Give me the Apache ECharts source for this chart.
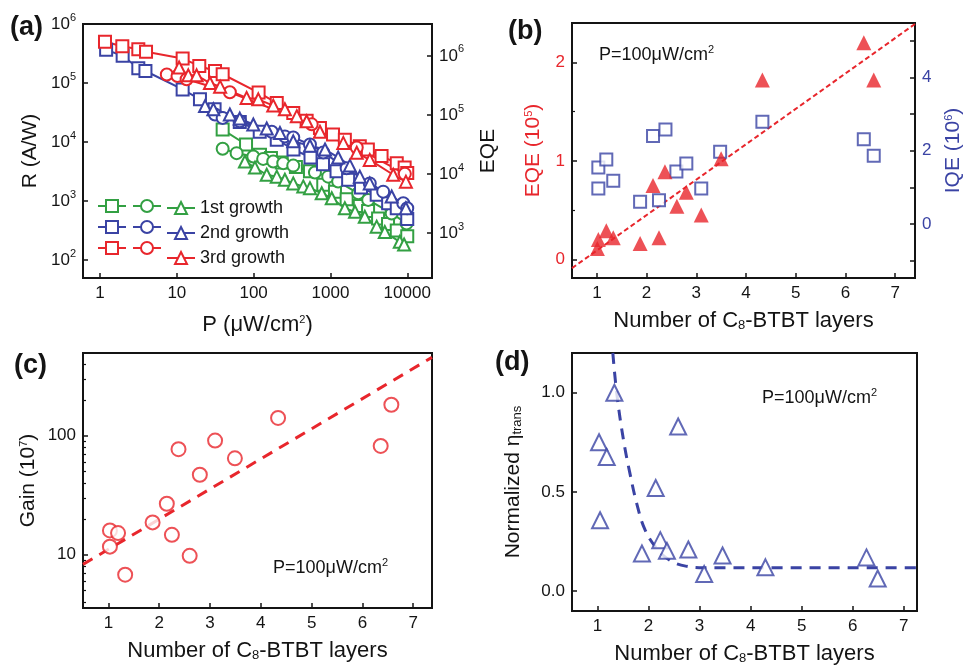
<!DOCTYPE html>
<html>
<head>
<meta charset="utf-8">
<script src="https://cdn.jsdelivr.net/npm/echarts@6/dist/echarts.min.js"></script>
<style>
  html, body { margin: 0; padding: 0; background: #fff; }
  #chart { width: 965px; height: 669px; }
</style>
</head>
<body>
<div id="chart"></div>
<script>
// (a) responsivity vs power, [P (uW/cm2), R (A/W)]
const sq1 = [[39.5,1.63e4],[79.6,9.1e3],[121,6.1e3],[168,5.4e3],[232,4.5e3],[355,3.8e3],[541,3.2e3],[806,1.9e3],[1145,1.45e3],[1625,1.08e3],[2410,830],[3090,680],[4170,510],[5620,410],[7300,320],[10000,255]];
const ci1 = [[39.5,7.7e3],[60,6.5e3],[99,5.7e3],[133,5.2e3],[180,4.7e3],[243,4.4e3],[328,4.0e3],[628,3.06e3],[935,2.6e3],[1260,2.15e3],[2300,1.36e3],[3100,1.05e3],[6270,620],[9800,420]];
const tr1 = [[77,4.7e3],[104,3.7e3],[148,2.8e3],[200,2.6e3],[255,2.3e3],[328,2.0e3],[443,1.78e3],[541,1.66e3],[770,1.36e3],[1040,1.12e3],[1540,760],[2090,660],[2800,545],[4000,370],[5100,300],[8000,205],[9100,185]];
const sq2 = [[1.2,3.65e5],[1.97,2.9e5],[3.15,1.78e5],[3.9,1.6e5],[11.9,7.8e4],[20,5.3e4],[31,3.6e4],[66,2.2e4],[120,1.5e4],[200,1.1e4],[330,7.5e3],[550,5.5e3],[800,4.2e3],[1200,3.2e3],[1700,2.3e3],[2500,1.7e3],[4000,1.28e3],[5640,920],[7300,760],[10000,500]];
const ci2 = [[31.4,2.94e4],[39.5,2.57e4],[66,2.26e4],[172,1.5e4],[255,1.25e4],[328,1.2e4],[541,9.1e3],[806,6.7e3],[1625,3.6e3],[3250,2.0e3],[4860,1.45e3],[8870,920],[10000,760]];
const tr2 = [[23.3,4.07e4],[29.9,3.6e4],[49,2.94e4],[66,2.5e4],[99,1.99e4],[148,1.7e4],[220,1.43e4],[328,1.03e4],[541,8.7e3],[850,7.5e3],[1260,5.5e3],[1790,4.0e3],[2410,2.6e3],[3250,2.0e3],[6270,1.2e3],[9600,760]];
const sq3 = [[1.16,5.0e5],[1.95,4.2e5],[3.15,3.75e5],[3.97,3.4e5],[11.9,2.6e5],[19.6,1.95e5],[31.4,1.6e5],[39.5,1.41e5],[116,6.9e4],[200,4.6e4],[328,3.1e4],[490,2.3e4],[730,1.74e4],[1080,1.34e4],[1540,1.1e4],[2410,8.5e3],[3070,7.5e3],[4630,5.8e3],[7300,4.4e3],[9250,3.7e3],[10000,3.0e3]];
const ci3 = [[7.4,1.4e5],[10.2,1.32e5],[13.4,1.16e5],[49,7.0e4],[570,2.0e4],[2200,8.1e3],[9300,2.9e3]];
const tr3 = [[10.7,1.83e5],[14.1,1.35e5],[18.1,1.35e5],[27,1.0e5],[36.6,8.7e4],[81,5.6e4],[115,5.3e4],[180,4.15e4],[255,3.6e4],[365,2.75e4],[490,2.26e4],[730,1.5e4],[1470,9.7e3],[2200,6.6e3],[3250,5.0e3],[6570,2.8e3],[9600,2.14e3]];
const growthNames = ['1st growth', '2nd growth', '3rd growth'];

// (b) EQE / IQE vs layers
const layersEqe = [1.01,1.03,1.19,1.33,1.87,2.25,2.13,2.37,2.61,2.8,3.1,3.5,4.33,6.37,6.57];
const eqe = [0.11,0.20,0.29,0.22,0.16,0.22,0.75,0.89,0.54,0.68,0.45,1.02,1.82,2.20,1.82];
const layersIqe = [1.03,1.19,1.03,1.33,1.87,2.13,2.38,2.25,2.6,2.8,3.1,3.48,4.33,6.37,6.57];
const iqe = [1.54,1.76,0.97,1.18,0.61,2.40,2.58,0.65,1.43,1.65,0.97,1.97,2.79,2.31,1.86];
const fitB = [[0.5,-0.09],[7.4,2.39]];

// (c) gain vs layers
const layersGain = [1.03,1.03,1.19,1.33,1.87,2.15,2.25,2.38,2.6,2.8,3.1,3.49,4.34,6.36,6.57];
const gain = [16.0,11.7,15.2,6.8,18.7,26.8,14.7,77,9.8,47,91,64.5,141,82,182];
const fitC = [[0.5,8.3],[7.37,455]];
const gainMinorTicks = [4,5,6,7,8,9,20,30,40,50,60,70,80,90,200,300,400];

// (d) normalized eta_trans vs layers
const layersEta = [1.33,1.03,1.18,1.05,2.14,2.58,2.23,2.36,1.87,2.78,3.45,3.09,4.29,6.27,6.49];
const eta = [1.0,0.75,0.676,0.357,0.52,0.83,0.257,0.203,0.19,0.21,0.18,0.086,0.12,0.17,0.064];
const fitD = [[1.3,1.2],[1.38,0.99],[1.51,0.76],[1.63,0.6],[1.77,0.44],[1.93,0.31],[2.16,0.215],[2.42,0.155],[2.75,0.125],[3.1,0.118],[7.3,0.118]];

const F = "'Liberation Sans', Arial, Helvetica, sans-serif";
const RED = '#e8262c', BLUE = '#3a43a4', GREEN = '#33a043', INK = '#141414';

const zip = (xs, ys) => xs.map((x, i) => [x, ys[i]]);
const supRich = c => ({
  s: { fontSize: 11, lineHeight: 11, verticalAlign: 'top', fontFamily: F, fontWeight: 'normal', color: c },
  b: { fontSize: 13, lineHeight: 13, verticalAlign: 'bottom', fontFamily: F, fontWeight: 'normal', color: c }
});
const pow10 = v => '10{s|' + Math.round(Math.log10(v)) + '}';
const tick = { show: true, inside: true, length: 5, lineStyle: { color: INK, width: 1.5 } };
const noLine = { show: false, onZero: false };
const lbl = (c, extra) => Object.assign({ fontSize: 17, fontFamily: F, color: c || INK, margin: 7, showMinLabel: false, showMaxLabel: false }, extra || {});
const nm = (c, size) => ({ fontSize: size || 21, fontFamily: F, color: c || INK, rich: supRich(c || INK) });
const gridBox = (l, t, w, h) => ({ left: l, top: t, width: w, height: h, show: true, borderColor: INK, borderWidth: 2, backgroundColor: 'transparent' });

const chart = echarts.init(document.getElementById('chart'), null, { renderer: 'canvas' });

function growthSeries(name, data, sym, color) {
  return {
    name: name, type: 'line', xAxisIndex: 0, yAxisIndex: 0, data: data,
    symbol: sym, symbolSize: 12, showAllSymbol: true,
    lineStyle: { color: color, width: 2 },
    itemStyle: { color: color, borderColor: color, borderWidth: 1.3 }
  };
}
function legendCol(names, left, withText) {
  return {
    data: names, left: left, top: 199, orient: 'vertical', padding: 0,
    itemWidth: 28, itemHeight: 15, itemGap: 7, selectedMode: false,
    formatter: withText ? (n => growthNames[names.indexOf(n)]) : (() => ''),
    textStyle: { fontSize: 18, fontFamily: F, color: INK, lineHeight: 15 }
  };
}
function note(left, top) {
  return {
    text: '{a|P=100μW/cm}{s|2}', left: left, top: top, padding: 0,
    textStyle: { fontWeight: 'normal', rich: { a: { fontSize: 18, lineHeight: 22, fontFamily: F, fontWeight: 'normal', color: INK }, s: supRich(INK).s } }
  };
}
function letter(t, left, top) {
  return { text: t, left: left, top: top, padding: 0, textStyle: { fontSize: 27, fontWeight: 'bold', fontFamily: F, color: INK } };
}
const layersName = 'Number of C{b|8}-BTBT layers';

const option = {
  backgroundColor: '#fff',
  animation: false,
  title: [
    letter('(a)', 10, 14), letter('(b)', 508, 18), letter('(c)', 14, 352), letter('(d)', 495, 349),
    note(599, 44), note(273, 557), note(762, 387)
  ],
  legend: [
    legendCol(['sq1', 'sq2', 'sq3'], 97, false),
    legendCol(['ci1', 'ci2', 'ci3'], 132, false),
    legendCol(['tr1', 'tr2', 'tr3'], 166, true)
  ],
  grid: [
    gridBox(83, 24, 349, 254),
    gridBox(572, 23, 345, 255),
    gridBox(83, 353, 349, 255),
    gridBox(572, 353, 345, 258)
  ],
  xAxis: [
    { type: 'log', gridIndex: 0, min: 0.6, max: 21000, axisLine: noLine, axisTick: tick, splitLine: { show: false },
      axisLabel: lbl(INK, { formatter: v => String(Math.pow(10, Math.round(Math.log10(v)))) }),
      name: 'P (μW/cm{s|2})', nameLocation: 'middle', nameGap: 36, nameTextStyle: nm(INK, 22) },
    { type: 'value', gridIndex: 1, min: 0.5, max: 7.4, splitNumber: 7, axisLine: noLine, axisTick: tick, splitLine: { show: false },
      axisLabel: lbl(INK), name: layersName, nameLocation: 'middle', nameGap: 32, nameTextStyle: nm(INK, 22) },
    { type: 'value', gridIndex: 2, min: 0.5, max: 7.37, splitNumber: 7, axisLine: noLine, axisTick: tick, splitLine: { show: false },
      axisLabel: lbl(INK), name: layersName, nameLocation: 'middle', nameGap: 32, nameTextStyle: nm(INK, 22) },
    { type: 'value', gridIndex: 3, min: 0.5, max: 7.26, splitNumber: 7, axisLine: noLine, axisTick: tick, splitLine: { show: false },
      axisLabel: lbl(INK), name: layersName, nameLocation: 'middle', nameGap: 32, nameTextStyle: nm(INK, 22) }
  ],
  yAxis: [
    { type: 'log', gridIndex: 0, min: 50, max: 1e6, axisLine: noLine, axisTick: tick, splitLine: { show: false },
      axisLabel: lbl(INK, { formatter: pow10, rich: supRich(INK), lineHeight: 24, showMaxLabel: true }),
      name: 'R (A/W)', nameLocation: 'middle', nameGap: 42, nameTextStyle: nm(INK, 21) },
    { type: 'log', gridIndex: 0, position: 'right', min: 174, max: 3.47e6, axisLine: noLine, axisTick: tick, splitLine: { show: false },
      axisLabel: lbl(INK, { formatter: pow10, rich: supRich(INK), lineHeight: 24 }),
      name: 'EQE', nameLocation: 'middle', nameRotate: 90, nameGap: 46, nameTextStyle: nm(INK, 21) },
    { type: 'value', gridIndex: 1, min: -0.19, max: 2.4, splitNumber: 3, axisLine: noLine, axisTick: tick, splitLine: { show: false },
      minorTick: { show: true, splitNumber: 2, length: 3, lineStyle: { color: INK, width: 1.2 } },
      axisLabel: lbl(RED), name: 'EQE (10{s|5})', nameLocation: 'middle', nameGap: 28, nameTextStyle: nm(RED, 21) },
    { type: 'value', gridIndex: 1, position: 'right', min: -1.47, max: 5.48, splitNumber: 7, axisLine: noLine, axisTick: tick, splitLine: { show: false },
      axisLabel: lbl(BLUE, { formatter: v => (Math.round(v) % 2 === 0 ? String(Math.round(v)) : '') }),
      name: 'IQE (10{s|6})', nameLocation: 'middle', nameRotate: 90, nameGap: 28, nameTextStyle: nm(BLUE, 21) },
    { type: 'log', gridIndex: 2, position: 'left', min: 3.57, max: 495, splitNumber: 2, axisLine: noLine, axisTick: tick, splitLine: { show: false },
      axisLabel: lbl(INK, { formatter: v => String(Math.pow(10, Math.round(Math.log10(v)))) }),
      name: 'Gain (10{s|7})', nameLocation: 'middle', nameGap: 44, nameTextStyle: nm(INK, 21) },
    { type: 'value', gridIndex: 3, min: -0.1, max: 1.2, splitNumber: 3, axisLine: noLine, axisTick: tick, splitLine: { show: false },
      axisLabel: lbl(INK, { formatter: v => v.toFixed(1) }),
      name: 'Normalized η{b|trans}', nameLocation: 'middle', nameGap: 48, nameTextStyle: nm(INK, 21) },
    // minor log ticks of (c)
    { type: 'log', gridIndex: 2, position: 'left', offset: 0, min: 3.57, max: 495, axisLine: noLine, splitLine: { show: false }, axisLabel: { show: false },
      axisTick: { show: true, inside: true, length: 3, customValues: gainMinorTicks, lineStyle: { color: INK, width: 1.2 } } }
  ],
  series: [
    growthSeries('sq1', sq1, 'emptyRect', GREEN),
    growthSeries('ci1', ci1, 'emptyCircle', GREEN),
    growthSeries('tr1', tr1, 'emptyTriangle', GREEN),
    growthSeries('sq2', sq2, 'emptyRect', BLUE),
    growthSeries('ci2', ci2, 'emptyCircle', BLUE),
    growthSeries('tr2', tr2, 'emptyTriangle', BLUE),
    growthSeries('sq3', sq3, 'emptyRect', RED),
    growthSeries('ci3', ci3, 'emptyCircle', RED),
    growthSeries('tr3', tr3, 'emptyTriangle', RED),

    { type: 'line', xAxisIndex: 1, yAxisIndex: 2, data: fitB, symbol: 'none', z: 1,
      lineStyle: { color: RED, width: 2, type: [5, 3] } },
    { type: 'scatter', xAxisIndex: 1, yAxisIndex: 3, data: zip(layersIqe, iqe), symbol: 'emptyRect', symbolSize: 12,
      itemStyle: { color: BLUE, borderColor: BLUE, borderWidth: 1.6 } },
    { type: 'scatter', xAxisIndex: 1, yAxisIndex: 2, data: zip(layersEqe, eqe), symbol: 'triangle', symbolSize: 15,
      itemStyle: { color: RED } },

    { type: 'line', xAxisIndex: 2, yAxisIndex: 4, data: fitC, symbol: 'none', z: 1,
      lineStyle: { color: RED, width: 3, type: [11, 8] } },
    { type: 'scatter', xAxisIndex: 2, yAxisIndex: 4, data: zip(layersGain, gain), symbol: 'emptyCircle', symbolSize: 14,
      itemStyle: { color: RED, borderColor: RED, borderWidth: 2 } },

    { type: 'line', xAxisIndex: 3, yAxisIndex: 5, data: fitD, symbol: 'none', smooth: 0.4, z: 1,
      lineStyle: { color: BLUE, width: 3, type: [11, 8] } },
    { type: 'scatter', xAxisIndex: 3, yAxisIndex: 5, data: zip(layersEta, eta), symbol: 'emptyTriangle', symbolSize: 16,
      itemStyle: { color: BLUE, borderColor: BLUE, borderWidth: 1.8 } }
  ]
};

chart.setOption(option);
</script>
</body>
</html>
